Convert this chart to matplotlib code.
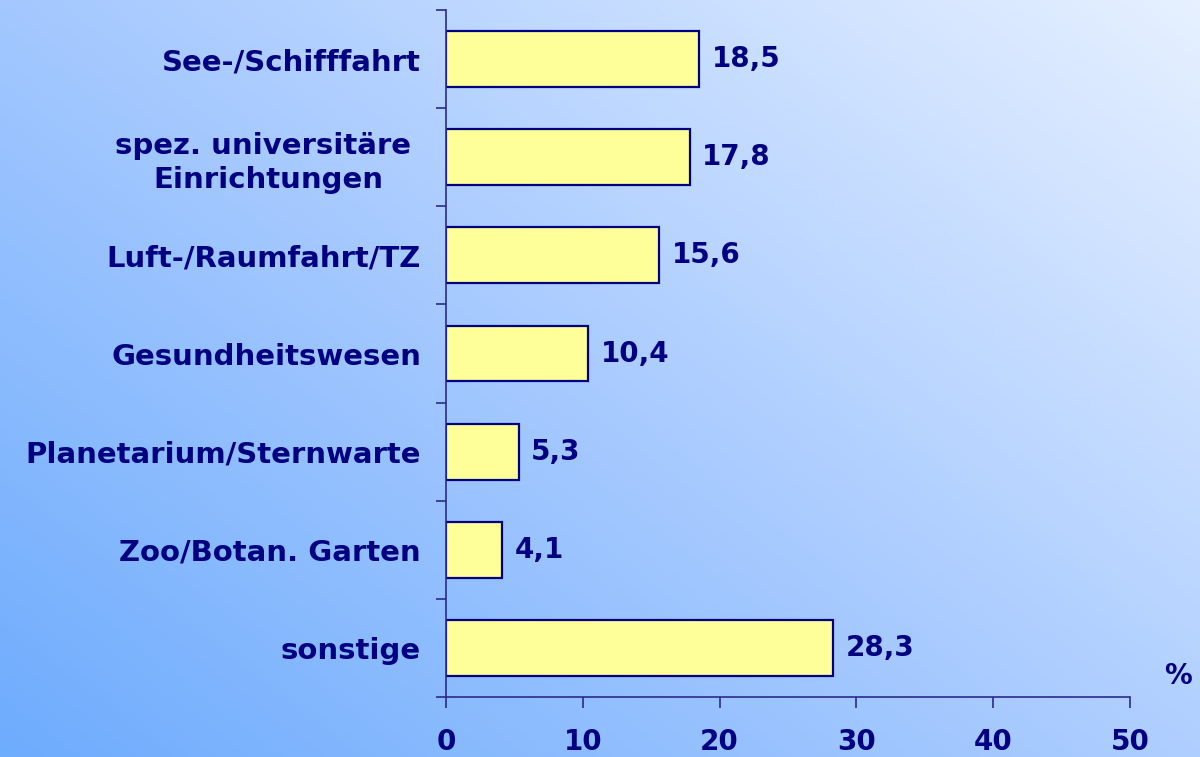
import numpy as np
import matplotlib
matplotlib.use("Agg")
import matplotlib.pyplot as plt
from matplotlib.colors import LinearSegmentedColormap

categories = ["See-/Schifffahrt", "spez. universitäre \nEinrichtungen", "Luft-/Raumfahrt/TZ",
              "Gesundheitswesen", "Planetarium/Sternwarte", "Zoo/Botan. Garten", "sonstige"]
values = [18.5, 17.8, 15.6, 10.4, 5.3, 4.1, 28.3]
value_labels = ["18,5", "17,8", "15,6", "10,4", "5,3", "4,1", "28,3"]
xticks = [0, 10, 20, 30, 40, 50]

navy = "#000080"
axcol = "#2b2b8c"

plt.rcParams['font.family'] = ['DejaVu Sans']
fig = plt.figure(figsize=(12, 7.57), dpi=100)

# diagonal gradient background
bg = fig.add_axes([0, 0, 1, 1], zorder=-1)
gx, gy = np.meshgrid(np.linspace(0, 1, 300), np.linspace(0, 1, 200))
grad = (gx * 0.55 + gy * 0.45)
cmap = LinearSegmentedColormap.from_list("bg", ["#6eacfd", "#a9cbff", "#e6f0ff"])
bg.imshow(grad, cmap=cmap, origin="lower", aspect="auto", extent=[0, 1, 0, 1])
bg.axis("off")

ax = fig.add_axes([446/1200, 1 - 697/757, (1130 - 446)/1200, (697 - 10)/757])
ax.patch.set_alpha(0)

y = np.arange(len(categories))
ax.barh(y, values, height=0.57, color="#ffff99", edgecolor=navy, linewidth=1.6)
ax.set_ylim(len(categories) - 0.5, -0.5)
ax.set_xlim(0, 50)

for yi, v, lab in zip(y, values, value_labels):
    ax.text(v + 0.9, yi, lab, va="center", ha="left", fontsize=20, fontweight="bold", color=navy)

ax.set_yticks(y)
ax.set_yticklabels(categories, fontsize=21, fontweight="bold", color=navy, linespacing=1.25)
for lbl in ax.get_yticklabels():
    lbl.set_multialignment("center")
ax.set_yticks(np.arange(-0.5, len(categories) + 0.5, 1), minor=True)
ax.tick_params(axis="y", which="major", length=0, pad=18)
ax.tick_params(axis="y", which="minor", length=7, width=1.2, color=axcol, direction="out")

ax.set_xticks(xticks)
ax.set_xticklabels([str(t) for t in xticks], fontsize=20, fontweight="bold", color=navy)
ax.tick_params(axis="x", length=8, width=1.2, color=axcol, direction="out", pad=14)

for s in ["top", "right"]:
    ax.spines[s].set_visible(False)
for s in ["left", "bottom"]:
    ax.spines[s].set_color(axcol)
    ax.spines[s].set_linewidth(1.2)

fig.text(1178/1200, 1 - 676/757, "%", ha="center", va="center", fontsize=20, fontweight="bold", color=navy)

fig.savefig("out.png", dpi=100)
